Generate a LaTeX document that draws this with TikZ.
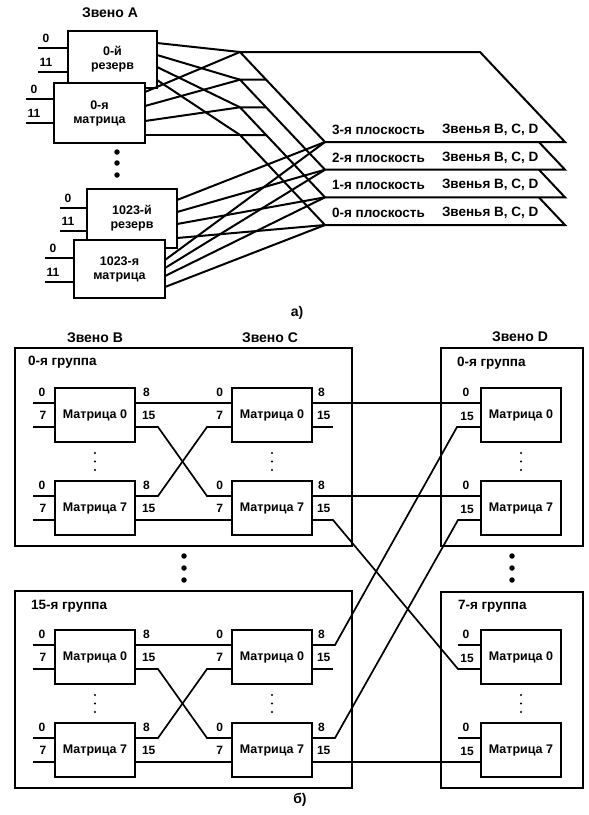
\documentclass[tikz,border=0pt]{standalone}
\usepackage{fontspec}
\setmainfont{Liberation Sans}
\usetikzlibrary{calc}
\begin{document}
\begin{tikzpicture}[x=1pt,y=-1pt,
  every node/.style={inner sep=0pt, outer sep=0pt},
  abox/.style={draw, fill=white, line width=2pt, align=center, font=\bfseries\fontsize{12.5}{14}\selectfont},
  aln/.style={line width=2pt},
  plane/.style={draw, fill=white, line width=2pt, line join=miter},
  ptxt/.style={font=\bfseries\fontsize{13.5}{15}\selectfont, anchor=west},
  port/.style={font=\bfseries\fontsize{12}{13}\selectfont},
  ttl/.style={font=\bfseries\fontsize{14}{16}\selectfont},
  gl/.style={font=\bfseries\fontsize{13.5}{15}\selectfont, anchor=west},
  mx/.style={draw, fill=white, line width=1.9pt, minimum width=80pt, minimum height=54pt, font=\bfseries\fontsize{12.5}{14}\selectfont},
  grp/.style={draw, line width=2pt},
  bln/.style={line width=1.7pt},
  bigdot/.style={fill, circle, minimum size=5.5pt},
  smalldot/.style={fill, circle, minimum size=2.4pt}
]
\useasboundingbox (0,0) rectangle (589,815);

% ---------------- part a ----------------
\node[ttl] (ta) at (110,13) {Звено А};

\foreach \k/\d in {0/83,1/55.3,2/27.7,3/0}{
  \draw[plane] (240,52+\d) coordinate (pt\k) -- (480,52+\d) -- (565,142+\d) -- (325,142+\d) coordinate (pb\k) -- cycle;
  \node[ptxt] (pl\k) at (332,130+\d) {\k-я плоскость};
  \node[ptxt] (zv\k) at (442,130+\d) {Звенья B, C, D};
}

\node[abox, minimum width=89pt, minimum height=57pt] (r0) at (112.5,59.5) {0-й\\резерв};
\node[abox, minimum width=91pt, minimum height=60pt] (m0) at (99.5,113) {0-я\\матрица};
\node[abox, minimum width=90pt, minimum height=59pt] (r1) at (132,218.5) {1023-й\\резерв};
\node[abox, minimum width=91pt, minimum height=58pt] (m1) at (119.5,269) {1023-я\\матрица};

% inputs
\foreach \b/\u/\v/\l in {r0/17/41/30, m0/16/40/28, r1/19/42/27, m1/18/42/29}{
  \coordinate (\b-a) at ($(\b.north west)+(-\l,\u)$);
  \coordinate (\b-b) at ($(\b.north west)+(-\l,\v)$);
  \draw[aln] (\b-a) -- (\b-a -| \b.west);
  \draw[aln] (\b-b) -- (\b-b -| \b.west);
  \node[port] (\b-la) at ($(\b-a)+(8,-10)$) {0};
  \node[port] (\b-lb) at ($(\b-b)+(8,-10)$) {11};
}

% outputs to planes
\foreach \k/\o in {3/12,2/24,1/36,0/49} \draw[aln] ($(r0.north east)+(0,\o)$) -- (pt\k);
\foreach \k/\o in {3/9,2/23,1/38,0/52} \draw[aln] ($(m0.north east)+(0,\o)$) -- (pt\k);
\foreach \k/\o in {3/11,2/23,1/35,0/49} \draw[aln] ($(r1.north east)+(0,\o)$) -- (pb\k);
\foreach \k/\o in {3/20,2/28,1/36,0/47} \draw[aln] ($(m1.north east)+(0,\o)$) -- (pb\k);

\foreach \i/\y in {1/152,2/163,3/175} \node[bigdot] (ad\i) at (117,\y) {};

\node[ttl] (capa) at (297,313) {а)};

% ---------------- part b ----------------
\node[ttl] (tB) at (95,338) {Звено B};
\node[ttl] (tC) at (270,338) {Звено C};
\node[ttl] (tD) at (520,337) {Звено D};

\node[grp, minimum width=337pt, minimum height=198pt] (g0) at (183.5,447) {};
\node[grp, minimum width=337pt, minimum height=197pt] (g15) at (183.5,689.5) {};
\node[grp, minimum width=142pt, minimum height=198pt] (d0) at (512,447) {};
\node[grp, minimum width=142pt, minimum height=196pt] (d7) at (512,689.5) {};

\node[gl] (g0l) at (28,362) {0-я группа};
\node[gl] (g15l) at (31,606) {15-я группа};
\node[gl] (d0l) at (457,363) {0-я группа};
\node[gl] (d7l) at (458,606) {7-я группа};

\node[mx] (gB0) at (95,415) {Матрица 0};
\node[mx] (gB7) at (95,508) {Матрица 7};
\node[mx] (gC0) at (272,415) {Матрица 0};
\node[mx] (gC7) at (272,508) {Матрица 7};
\node[mx] (hB0) at (95,657) {Матрица 0};
\node[mx] (hB7) at (95,750) {Матрица 7};
\node[mx] (hC0) at (272,657) {Матрица 0};
\node[mx] (hC7) at (272,750) {Матрица 7};
\node[mx] (dA0) at (521,415) {Матрица 0};
\node[mx] (dA7) at (521,508) {Матрица 7};
\node[mx] (dB0) at (521,657) {Матрица 0};
\node[mx] (dB7) at (521,750) {Матрица 7};

\foreach \n in {gB0,gB7,gC0,gC7,hB0,hB7,hC0,hC7,dA0,dA7,dB0,dB7}{
  \coordinate (\n-iu) at ($(\n.west)+(0,-12)$);
  \coordinate (\n-id) at ($(\n.west)+(0,12)$);
  \coordinate (\n-ou) at ($(\n.east)+(0,-12)$);
  \coordinate (\n-od) at ($(\n.east)+(0,12)$);
}

% B inputs and labels
\foreach \n in {gB0,gB7,hB0,hB7}{
  \draw[bln] (\n-iu) -- ++(-22,0);
  \draw[bln] (\n-id) -- ++(-22,0);
  \node[port] (\n-l0) at ($(\n-iu)+(-13,-11)$) {0};
  \node[port] (\n-l7) at ($(\n-id)+(-12,-12)$) {7};
  \node[port, anchor=west] (\n-l8) at ($(\n-ou)+(8,-11)$) {8};
  \node[port, anchor=west] (\n-l15) at ($(\n-od)+(7,-12)$) {15};
}
% C labels
\foreach \n in {gC0,gC7,hC0,hC7}{
  \node[port, anchor=east] (\n-l0) at ($(\n-iu)+(-9,-11)$) {0};
  \node[port, anchor=east] (\n-l7) at ($(\n-id)+(-9,-12)$) {7};
  \node[port, anchor=west] (\n-l8) at ($(\n-ou)+(6,-11)$) {8};
  \node[port, anchor=west] (\n-l15) at ($(\n-od)+(5,-12)$) {15};
}
% D labels
\foreach \n in {dA0,dA7,dB0,dB7}{
  \node[port] (\n-l0) at ($(\n-iu)+(-15,-11)$) {0};
  \node[port] (\n-l15) at ($(\n-id)+(-14,-11)$) {15};
}

% B-C links in both groups
\foreach \p in {g,h}{
  \draw[bln] (\p B0-ou) -- (\p C0-iu);
  \draw[bln] (\p B0-od) -- ++(23,0) -- ($(\p C7-iu)+(-25,0)$) -- (\p C7-iu);
  \draw[bln] (\p B7-ou) -- ++(23,0) -- ($(\p C0-id)+(-25,0)$) -- (\p C0-id);
  \draw[bln] (\p B7-od) -- (\p C7-id);
}

% C-D links
\draw[bln] (gC0-ou) -- (dA0-iu);
\draw[bln] (gC0-od) -- ++(21,0);
\draw[bln] (gC7-ou) -- (dA7-iu);
\draw[bln] (gC7-od) -- ++(21,0) -- ($(dB0-id)+(-23,0)$) -- (dB0-id);
\draw[bln] (hC0-ou) -- ++(23,0) -- ($(dA0-id)+(-24,0)$) -- (dA0-id);
\draw[bln] (hC0-od) -- ++(21,0);
\draw[bln] (hC7-ou) -- ++(23,0) -- ($(dA7-id)+(-23,0)$) -- (dA7-id);
\draw[bln] (hC7-od) -- (dB7-id);
\draw[bln] (dB0-iu) -- ++(-23,0);
\draw[bln] (dB7-iu) -- ++(-23,0);

% redraw matrices on top
\foreach \n/\t in {gB0/0,gB7/7,gC0/0,gC7/7,hB0/0,hB7/7,hC0/0,hC7/7,dA0/0,dA7/7,dB0/0,dB7/7}{
  \node[mx] at (\n) {Матрица \t};
}

% small dots
\foreach \x/\c in {95/b,272/c,521/d}{
  \foreach \i/\y in {1/453,2/461.5,3/470}{
    \node[smalldot] (s\c\i) at (\x,\y) {};
    \node[smalldot] (t\c\i) at (\x,\y+242) {};
  }
}
% big dots
\foreach \i/\y in {1/556,2/568,3/580}{
  \node[bigdot] (bd\i) at (184,\y) {};
  \node[bigdot] (dd\i) at (512,\y) {};
}

\node[ttl] (capb) at (300,800) {б)};
\end{tikzpicture}
\end{document}
